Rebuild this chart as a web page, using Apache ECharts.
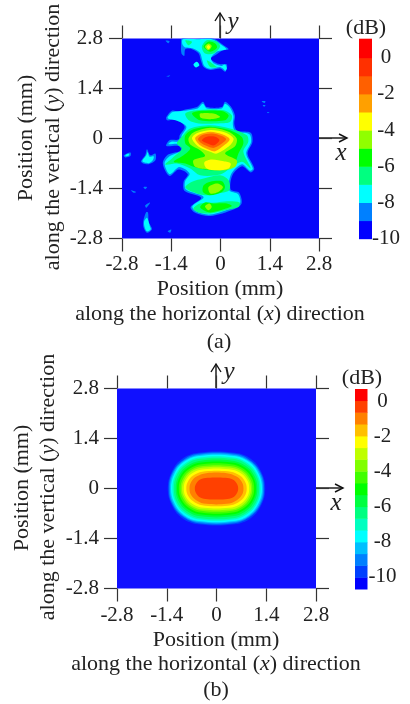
<!DOCTYPE html>
<html><head><meta charset="utf-8">
<style>html,body{margin:0;padding:0;background:#fff}#c{width:410px;height:704px;filter:blur(.45px)}</style>
<script src="https://cdn.jsdelivr.net/npm/echarts@6/dist/echarts.min.js"></script>
</head><body><div id="c"></div>
<script>
const tickValues = [-2.8, -1.4, 0, 1.4, 2.8];
const tickLabels = ['-2.8', '-1.4', '0', '1.4', '2.8'];
const colorbarTicks = [-10, -8, -6, -4, -2, 0];
// panel (a) legend bands, low to high
const edgesA = [-10, -9, -8, -7, -6, -5, -4, -3, -2, -1, 0, 1.05];
const colorsA = ['#0000ff','#0080ff','#00ffff','#00ff80','#00ff00','#90ff00','#ffff00','#ffa000','#ff6000','#ff3000','#ff0000'];
// panel (b) legend bands, low to high
const edgesB = [-10.7,-10.03,-9.35,-8.68,-8.01,-7.33,-6.66,-5.99,-5.31,-4.64,-3.97,-3.29,-2.62,-1.95,-1.27,-0.6,0.07,0.73];
const colorsB = ['#0000ff','#0040ff','#0080ff','#00bfff','#00ffff','#00ffc0','#00ff80','#00ff40','#00ff00','#40ff00','#80ff00','#bfff00','#ffff00','#ffc000','#ff8000','#ff4000','#ff0000'];

// panel (a): contour outlines, [band index, x1,y1, x2,y2, ...] in mm
const topBlobOuter = [1, -1.10,2.80,-0.86,2.78,-0.58,2.80,-0.20,2.80,0.09,2.61,0.23,2.50,0.04,2.46,-0.15,2.33,-0.29,2.24,-0.06,2.09,0.18,2.07,0.14,1.87,-0.01,1.96,-0.29,1.92,-0.48,2.00,-0.56,2.19,-0.62,2.38,-0.81,2.50,-1.00,2.50,-1.03,2.31,-1.11,2.38,-1.12,2.61];
const topBlobCyan = [2, -1.07,2.78,-0.60,2.78,-0.25,2.78,0.06,2.60,0.17,2.50,-0.08,2.44,-0.27,2.25,-0.18,2.10,0.02,2.03,0.12,2.02,0.10,1.95,-0.02,2.00,-0.29,1.95,-0.46,2.03,-0.52,2.20,-0.59,2.41,-0.80,2.53,-1.00,2.55,-1.08,2.63];
const topBlobSpring = [3, -0.53,2.57,-0.39,2.75,-0.10,2.71,-0.01,2.57,-0.20,2.38,-0.44,2.38];
const topBlobSpringLeft = [3, -1.00,2.75,-0.81,2.71,-0.91,2.61];
const topBlobGreen = [4, -0.48,2.57,-0.34,2.71,-0.15,2.66,-0.10,2.54,-0.29,2.43];
const topBlobLime = [5, -0.44,2.57,-0.34,2.66,-0.25,2.59,-0.34,2.47];
const topBlobYellow = [6, -0.39,2.57,-0.34,2.62,-0.29,2.56,-0.34,2.50];
const topTailSpring = [3, -0.39,2.19,-0.29,2.14,-0.10,2.00,-0.01,2.00,-0.29,2.00];
const topSpotLeft = [2, -0.77,2.07,-0.67,2.15,-0.60,2.05,-0.70,1.99];
const topSpotRight = [2, 0.05,2.03,0.13,2.07,0.18,1.96,0.13,1.90];
const bodyOuter = [1, -1.54,0.60,-1.38,0.78,-1.19,0.76,-1.00,0.81,-0.67,0.88,-0.50,1.03,-0.39,0.88,0.04,0.88,0.13,1.03,0.29,0.90,0.41,0.65,0.39,0.42,0.44,0.25,0.51,0.20,0.86,0.16,0.91,-0.09,0.77,-0.42,0.96,-0.84,0.86,-0.95,0.61,-0.78,0.34,-1.03,0.29,-1.43,0.53,-1.52,0.60,-1.82,0.39,-1.98,-0.29,-2.17,-0.72,-2.08,-0.85,-1.92,-0.55,-1.66,-1.02,-1.47,-1.05,-1.21,-0.93,-1.00,-1.19,-0.87,-1.45,-1.05,-1.64,-0.70,-1.49,-0.45,-1.12,-0.34,-1.19,-0.21,-1.54,-0.21,-1.45,-0.05,-1.19,-0.03,-1.16,0.09,-1.02,0.33,-1.24,0.53,-1.52,0.51];
const bodyCyan = [2, -1.50,0.60,-1.36,0.74,-1.00,0.78,-0.65,0.84,-0.50,0.97,-0.39,0.84,0.04,0.84,0.13,0.97,0.27,0.86,0.37,0.63,0.35,0.40,0.42,0.20,0.82,0.12,0.87,-0.09,0.73,-0.42,0.92,-0.84,0.84,-0.90,0.61,-0.72,0.30,-1.00,0.25,-1.45,0.50,-1.56,0.56,-1.80,0.35,-1.94,-0.29,-2.13,-0.70,-2.04,-0.80,-1.90,-0.48,-1.64,-0.98,-1.43,-1.01,-1.21,-0.88,-0.98,-1.17,-0.80,-1.44,-1.00,-1.59,-0.70,-1.45,-0.50,-1.08,-0.33,-1.17,-0.16,-1.48,-0.16,-1.40,-0.09,-1.15,-0.08,-1.10,0.09,-0.97,0.33,-1.22,0.49,-1.48,0.55];
const upperLobeSpring = [3, -1.00,0.70,-0.67,0.79,0.09,0.79,0.32,0.65,0.27,0.46,-0.10,0.42,-0.62,0.42,-0.90,0.51];
const upperLobeGreen = [4, -0.81,0.70,-0.58,0.77,0.04,0.77,0.23,0.65,0.13,0.51,-0.58,0.51];
const upperLobeLime = [5, -0.58,0.70,-0.20,0.70,-0.01,0.60,-0.29,0.54,-0.56,0.58];
const midSpring = [3, -1.10,0.05,-0.86,0.28,-0.29,0.37,0.27,0.28,0.75,0.09,0.79,-0.09,0.65,-0.37,0.86,-0.84,0.61,-0.65,0.27,-0.84,-0.01,-1.01,-0.58,-1.03,-0.86,-0.84,-1.24,-0.70,-1.57,-0.73,-1.38,-0.56,-1.10,-0.28,-1.24,-0.14];
const midGreen = [4, -1.00,0.09,-0.77,0.26,-0.29,0.33,0.27,0.23,0.60,0.05,0.65,-0.14,0.51,-0.42,0.42,-0.65,0.18,-0.84,-0.29,-0.89,-0.77,-0.79,-1.00,-0.70,-1.33,-0.65,-1.05,-0.47,-0.86,-0.28,-1.00,-0.14];
const midLime = [5, -0.91,0.00,-0.77,0.17,-0.29,0.30,0.23,0.19,0.46,0.00,0.42,-0.21,0.13,-0.42,0.46,-0.61,0.42,-0.79,0.09,-0.89,-0.39,-0.86,-0.72,-0.79,-0.77,-0.61,-0.44,-0.49,-0.58,-0.33,-0.86,-0.17];
const peakYellow = [6, -0.81,0.00,-0.69,0.14,-0.29,0.24,0.13,0.17,0.37,0.00,0.27,-0.19,-0.10,-0.42,-0.29,-0.37,-0.62,-0.23];
const midYellow = [6, -0.46,-0.67,-0.25,-0.59,0.09,-0.64,0.29,-0.70,0.23,-0.84,-0.10,-0.89,-0.39,-0.84];
const peakOrange = [7, -0.72,0.00,-0.60,0.11,-0.29,0.19,0.07,0.11,0.26,-0.02,0.13,-0.17,-0.15,-0.36,-0.29,-0.33,-0.58,-0.19];
const peakDeepOrange = [8, -0.64,-0.02,-0.53,0.09,-0.25,0.14,0.04,0.07,0.16,-0.02,0.04,-0.14,-0.18,-0.26,-0.34,-0.23,-0.53,-0.14];
const peakRed = [9, -0.53,-0.05,-0.39,0.05,-0.15,0.05,-0.03,-0.05,-0.18,-0.19,-0.37,-0.14];
const lowLobeSpring = [3, -1.00,-1.36,-0.81,-1.21,-0.48,-1.12,-0.01,-1.03,0.23,-1.17,0.25,-1.45,-0.10,-1.54,-0.44,-1.59,-0.86,-1.47];
const lowLobeGreen = [4, -0.48,-1.31,-0.29,-1.21,0.04,-1.20,0.13,-1.36,0.04,-1.50,-0.29,-1.59,-0.50,-1.50];
const lowLobeLime = [5, -0.34,-1.36,-0.10,-1.26,0.07,-1.36,-0.06,-1.50,-0.29,-1.54];
const bottomLobeSpring = [3, -0.77,-1.96,-0.58,-1.82,-0.10,-1.79,0.18,-1.76,0.54,-1.79,0.51,-1.92,0.13,-2.01,-0.29,-2.10,-0.62,-2.07];
const bottomLobeGreen = [4, -0.58,-1.92,-0.44,-1.79,-0.20,-1.82,0.18,-1.82,0.32,-1.89,0.09,-1.98,-0.29,-2.07,-0.48,-2.01];
const bottomLobeLime = [5, -0.44,-1.90,-0.31,-1.82,-0.25,-1.92,-0.34,-2.01];
const leftSpot1 = [1, -2.75,-0.47,-2.56,-0.39,-2.56,-0.49,-2.71,-0.53];
const leftSpot1Cyan = [2, -2.70,-0.46,-2.60,-0.43,-2.60,-0.47,-2.69,-0.50];
const leftSpot2 = [1, -2.26,-0.64,-2.14,-0.47,-2.09,-0.30,-2.00,-0.47,-1.85,-0.42,-1.85,-0.61,-2.04,-0.72,-2.20,-0.70];
const leftSpot2Cyan = [2, -2.22,-0.64,-2.11,-0.47,-2.07,-0.38,-2.02,-0.51,-1.90,-0.50,-1.92,-0.60,-2.04,-0.69];
const lowLeftSpot = [1, -2.19,-2.29,-2.11,-2.06,-2.06,-2.07,-2.04,-2.34,-1.95,-2.54,-2.09,-2.64,-2.19,-2.48];
const lowLeftSpotCyan = [2, -2.17,-2.32,-2.09,-2.22,-2.00,-2.48,-1.98,-2.54,-2.09,-2.60,-2.16,-2.47];
const speck1 = [1, -2.14,-1.87,-2.00,-1.79,-2.11,-1.94];
const speck2 = [1, -2.54,-1.45,-2.40,-1.50,-2.47,-1.52];
const speck3 = [1, -1.50,-2.60,-1.40,-2.55,-1.43,-2.64];
const speck4 = [1, -2.19,-1.36,-2.09,-1.36,-2.14,-1.42];
const speck5 = [1, -1.54,1.74,-1.43,1.77,-1.48,1.73];
const speck6 = [1, 1.17,1.04,1.28,1.04,1.25,0.99];
const speck7 = [1, 1.20,0.93,1.28,0.93,1.24,0.89];
const speck8 = [1, 1.32,0.74,1.39,0.74,1.35,0.71];
const speck9 = [1, -1.56,2.74,-1.45,2.73,-1.48,2.67];
const contoursA = [topBlobOuter,topBlobCyan,topBlobSpring,topBlobSpringLeft,topBlobGreen,topBlobLime,topBlobYellow,topTailSpring,topSpotLeft,topSpotRight,bodyOuter,bodyCyan,upperLobeSpring,upperLobeGreen,upperLobeLime,midSpring,midGreen,midLime,peakYellow,midYellow,peakOrange,peakDeepOrange,peakRed,lowLobeSpring,lowLobeGreen,lowLobeLime,bottomLobeSpring,bottomLobeGreen,bottomLobeLime,leftSpot1,leftSpot1Cyan,leftSpot2,leftSpot2Cyan,lowLeftSpot,lowLeftSpotCyan,speck1,speck2,speck3,speck4,speck5,speck6,speck7,speck8,speck9];

// panel (b): one quadrant of each nested contour, [band index, x1,y1, ...] in mm
const quadrantsB = [
 [1, 1.37,0, 1.27,.44, .99,.81, .52,1.00],
 [2, 1.34,0, 1.25,.43, .96,.78, .51,.97],
 [3, 1.31,0, 1.22,.42, .94,.76, .50,.94],
 [4, 1.28,0, 1.19,.40, .92,.74, .49,.91],
 [5, 1.24,0, 1.15,.39, .89,.70, .47,.87],
 [6, 1.20,0, 1.12,.37, .86,.67, .46,.83],
 [7, 1.15,0, 1.07,.35, .83,.63, .44,.78],
 [8, 1.11,0, 1.03,.33, .80,.59, .42,.73],
 [9, 1.06,0, .99,.30, .76,.55, .40,.68],
 [10, 1.01,0, .94,.28, .73,.51, .38,.63],
 [11, .97,0, .90,.26, .70,.48, .37,.59],
 [12, .92,0, .86,.24, .66,.44, .35,.54],
 [13, .85,0, .79,.22, .61,.39, .32,.48],
 [14, .76,0, .71,.19, .55,.34, .29,.43],
 [15, .61,0, .57,.14, .46,.25, .25,.30]
];
function mirror(q){
  const p=q.slice(1), pts=[];
  for(let i=0;i<p.length;i+=2) pts.push([p[i],p[i+1]]);
  const tr=pts.slice(1).reverse().map(a=>[-a[0],a[1]]);
  const up=pts.concat(tr,[[-p[0],0]]);
  const low=up.slice(1,-1).reverse().map(a=>[a[0],-a[1]]);
  return [q[0]].concat(up.concat(low).flat());
}
const contoursB = quadrantsB.map(mirror);

const SERIF='"Liberation Serif"', INK='#222';
const fmt=v=>{const i=tickValues.findIndex(t=>Math.abs(t-v)<1e-6);return i<0?'':tickLabels[i];};
function contourSeries(list,colors,ix,sm){
  return {type:'custom',xAxisIndex:ix,yAxisIndex:ix,clip:true,silent:true,animation:false,
    data:list.map(c=>[c[0]]),
    renderItem(params,api){
      const c=list[params.dataIndex],pts=[];
      for(let i=1;i<c.length;i+=2) pts.push(api.coord([c[i],c[i+1]]));
      return {type:'polygon',shape:{points:pts,smooth:sm},style:{fill:colors[c[0]]}};
    }};
}
function barSeries(edges,colors,ix){
  return {type:'custom',xAxisIndex:ix,yAxisIndex:ix,silent:true,animation:false,
    data:colors.map((c,i)=>[edges[i],edges[i+1]]),
    renderItem(params,api){
      const a=api.coord([0,api.value(1)]),b=api.coord([1,api.value(0)]);
      return {type:'rect',shape:{x:a[0],y:a[1],width:b[0]-a[0],height:b[1]-a[1]+.5},style:{fill:colors[params.dataIndex]}};
    }};
}
const tick={show:true,length:13,inside:false,lineStyle:{color:'#333',width:1.2}};
const lab={fontFamily:SERIF,fontSize:21,color:INK};
const hiddenLine={show:false,onZero:false};
function plotAxes(g,mx,my){return {
  x:[{gridIndex:g,type:'value',min:-2.8,max:2.8,interval:1.4,position:'bottom',axisLine:hiddenLine,axisTick:tick,splitLine:{show:false},axisLabel:{...lab,margin:mx,formatter:fmt}},
     {gridIndex:g,type:'value',min:-2.8,max:2.8,interval:1.4,position:'top',axisLine:hiddenLine,axisTick:tick,splitLine:{show:false},axisLabel:{show:false}}],
  y:[{gridIndex:g,type:'value',min:-2.8,max:2.8,interval:1.4,position:'left',axisLine:hiddenLine,axisTick:tick,splitLine:{show:false},axisLabel:{...lab,margin:my,formatter:fmt}},
     {gridIndex:g,type:'value',min:-2.8,max:2.8,interval:1.4,position:'right',axisLine:hiddenLine,axisTick:tick,splitLine:{show:false},axisLabel:{show:false}}]
};}
const pa=plotAxes(0,15,19),pb=plotAxes(1,16,18);
const barX=g=>({gridIndex:g,type:'value',min:0,max:1,show:false});
const barY=(g,mn,mx,m)=>({gridIndex:g,type:'value',min:mn,max:mx,position:'right',axisLine:hiddenLine,axisTick:{show:false},splitLine:{show:false},
  axisLabel:{...lab,margin:m,align:'center',customValues:colorbarTicks,formatter:v=>String(v)}});

function text(x,y,t,extra){
  return Object.assign({type:'text',x,y,silent:true,style:{text:t,font:'22px '+SERIF,fill:INK,textAlign:'center',textVerticalAlign:'middle',
    rich:{i:{fontFamily:SERIF,fontSize:22,fontStyle:'italic',fill:INK,color:INK},n:{fontFamily:SERIF,fontSize:22,fill:INK,color:INK}}}},extra||{});
}
const rot={rotation:Math.PI/2};
function arrow(x1,y1,x2,y2,hd){
  const lineStyle={stroke:'#111',lineWidth:1.4,fill:null};
  return [{type:'line',silent:true,shape:{x1,y1,x2,y2},style:lineStyle},
          {type:'polyline',silent:true,shape:{points:hd},style:lineStyle}];
}
const ital=(x,y,t)=>({type:'text',x,y,silent:true,style:{text:t,font:'italic 25px '+SERIF,fill:INK,textAlign:'center',textVerticalAlign:'middle'}});
const graphics=[
  text(26,138,'{n|Position (mm)}',rot),
  text(53,137,'{n|along the vertical (}{i|y}{n|) direction}',rot),
  text(220,289,'{n|Position (mm)}'),
  text(220,314,'{n|along the horizontal (}{i|x}{n|) direction}'),
  text(219,342,'{n|(a)}'),
  text(366,28,'{n|(dB)}'),
  ...arrow(319,138,347,138,[[339,134],[347,138],[339,142]]),
  ...arrow(220,38,220,13,[[215,21],[220,13],[225,21]]),
  ital(341,153,'x'),ital(233,22,'y'),
  text(22,488,'{n|Position (mm)}',rot),
  text(48,487,'{n|along the vertical (}{i|y}{n|) direction}',rot),
  text(216,640,'{n|Position (mm)}'),
  text(216,664,'{n|along the horizontal (}{i|x}{n|) direction}'),
  text(216,690,'{n|(b)}'),
  text(362,378,'{n|(dB)}'),
  ...arrow(316,488,343,488,[[335,484],[343,488],[335,492]]),
  ...arrow(216,388,216,364,[[211,372],[216,364],[221,372]]),
  ital(336,503,'x'),ital(229,372,'y')
];

const chart=echarts.init(document.getElementById('c'),null,{renderer:'canvas'});
chart.setOption({
  animation:false,backgroundColor:'#fff',
  grid:[
    {left:122,top:38.5,width:197,height:200,show:true,backgroundColor:'#0606fa',borderWidth:0},
    {left:117,top:388.5,width:199,height:200,show:true,backgroundColor:'#1010ff',borderWidth:0},
    {left:359,top:38.7,width:13,height:200,show:false},
    {left:355,top:389,width:12.5,height:200,show:false}
  ],
  xAxis:[...pa.x,...pb.x,barX(2),barX(3)],
  yAxis:[...pa.y,...pb.y,barY(2,-10,1.05,14),barY(3,-10.7,0.73,15)],
  series:[
    contourSeries(contoursA,colorsA,0,0.3),
    contourSeries(contoursB,colorsB,2,0.4),
    barSeries(edgesA,colorsA,4),
    barSeries(edgesB,colorsB,5)
  ],
  graphic:graphics
});
</script></body></html>
